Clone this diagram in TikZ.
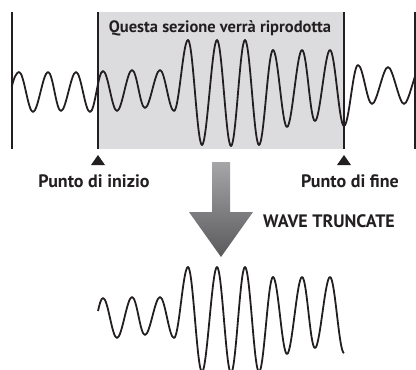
\documentclass[tikz,border=0pt]{standalone}
\usepackage{fontspec}
\setmainfont{PT Sans}
\usetikzlibrary{positioning}
\definecolor{SecFill}{HTML}{DCDCDE}
\definecolor{Ink}{HTML}{231F20}
\definecolor{ArrowTop}{HTML}{A6A6A8}
\definecolor{ArrowBot}{HTML}{5A5A5C}
\newcommand\midwave{117/111,132/70,145/108,160/70,174/111,188/40,202/145,217/40,231/146,245/40,259/145,273/50,287/127,302/50,315/121,330/50,344/126}

\begin{document}
\begin{tikzpicture}[
        x=1pt, y=-1pt,
        every node/.style={font=\bfseries\fontsize{18}{20}\selectfont, text=Ink, inner sep=0pt},
        heading/.style={font=\bfseries\fontsize{16.5}{18}\selectfont},
        wave/.style={draw=Ink, line width=1.8pt, line join=round},
        bar/.style={draw=Ink, line width=2pt},
        marker/.style={fill=Ink}
    ]
        \useasboundingbox (0,0) rectangle (416,370);

        \fill[SecFill] (98,12) rectangle (344,149);
        \draw[bar] (12,12) -- (12,149);
        \draw[bar] (98,12) -- (98,149);
        \draw[bar] (344,12) -- (344,149);
        \draw[bar] (415,12) -- (415,149);

        \node[heading, anchor=base] (title) at (220,32) {Questa sezione verrà riprodotta};

        \draw[wave] (12,86) .. controls +(2,-9) and +(-2,0) .. (19,72)
            \foreach \x/\y in {33/112,48/72,61/111,76/72,90/112,103/71} { .. controls +(5,0) and +(-5,0) .. (\x,\y) }
            \foreach \x/\y in \midwave { .. controls +(5,0) and +(-5,0) .. (\x,\y) }
            \foreach \x/\y in {358/65,372/104,388/67,404/104,420/68} { .. controls +(5,0) and +(-5,0) .. (\x,\y) };

        \fill[marker] (98,155) -- ++(7,10) -- ++(-14,0) -- cycle;
        \fill[marker] (344,155) -- ++(7,10) -- ++(-14,0) -- cycle;

        \node[anchor=base] (inizio) at (94,187) {Punto di inizio};
        \node[anchor=base] (fine) at (350,187) {Punto di fine};

        \shade[top color=ArrowTop, bottom color=ArrowBot]
            (212,162) -- (230,162) -- (230,212) -- (253,212) -- (221,257) -- (189,212) -- (212,212) -- cycle;
        \node[anchor=base] (trunc) at (329,227) {WAVE TRUNCATE};

        \begin{scope}[shift={(0,227)}]
            \draw[wave] (98,84) .. controls +(1.2,-5.5) and +(-2,0) .. (103,71)
                \foreach \x/\y in \midwave { .. controls +(5,0) and +(-5,0) .. (\x,\y) };
        \end{scope}
    \end{tikzpicture}
\end{document}
